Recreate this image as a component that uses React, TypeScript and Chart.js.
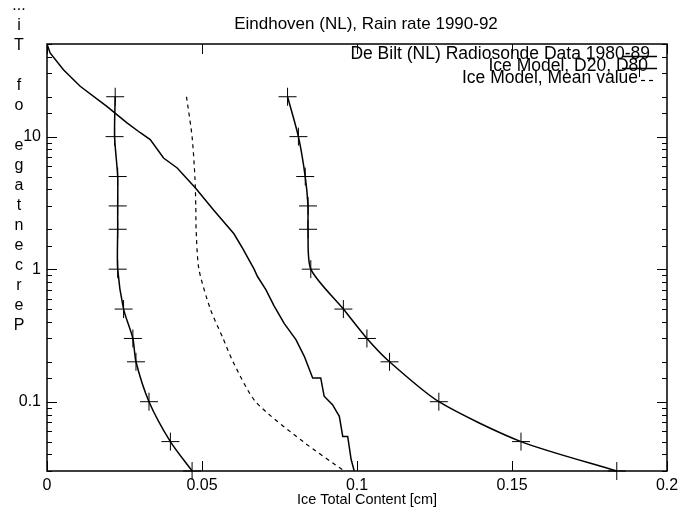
import React, { useEffect, useRef } from "react";
import { Chart, registerables } from "chart.js";

Chart.register(...registerables);

const titleText = "Eindhoven (NL), Rain rate 1990-92";
const xTitleText = "Ice Total Content [cm]";
const yTitleChars = ["P", "e", "r", "c", "e", "n", "t", "a", "g", "e", " ", "o", "f", " ", "T", "i", "..."];

const legendLabels = [
  "De Bilt (NL) Radiosonde Data 1980-89",
  "Ice Model, D20, D80",
  "Ice Model, Mean value",
];

// Percentage of time levels for the model curves
const modelLevels = [20, 10, 5, 3, 2, 1, 0.5, 0.3, 0.2, 0.1, 0.05, 0.03];
const d20Values = [0.022, 0.0218, 0.0228, 0.0228, 0.0228, 0.0228, 0.0247, 0.0277, 0.0287, 0.0329, 0.0398, 0.0468];
const d80Values = [0.0776, 0.0811, 0.0833, 0.0842, 0.0842, 0.0851, 0.0956, 0.1032, 0.1105, 0.1264, 0.1529, 0.1838];
const meanValues = [0.045, 0.0468, 0.0477, 0.048, 0.0481, 0.049, 0.0527, 0.0568, 0.06, 0.0673, 0.0826, 0.0959];

// De Bilt radiosonde measured distribution
const deBiltContent = [
  0.0, 0.001, 0.0053, 0.0107, 0.0193, 0.0258, 0.0301, 0.0333, 0.0376, 0.042,
  0.0479, 0.0538, 0.0603, 0.0632, 0.0668, 0.0679, 0.0706, 0.0732, 0.0765, 0.0803,
  0.083, 0.0857, 0.0883, 0.0894, 0.0921, 0.0943, 0.0954, 0.097, 0.0981, 0.0991,
];
const deBiltPercent = [
  50, 42.8, 32, 24, 16.9, 12.7, 10.7, 9.5, 6.9, 5.8,
  4.1, 2.78, 1.85, 1.42, 1.0, 0.88, 0.7, 0.53, 0.39, 0.294,
  0.22, 0.151, 0.151, 0.11, 0.095, 0.0775, 0.0547, 0.0547, 0.0368, 0.03,
];

const xTickStep = 0.05;
const xMin = 0;
const xMax = 0.2;
const yMin = 0.03;
const yMax = 50;

const FONT = '"Liberation Sans", Arial, Helvetica, sans-serif';
const FS = 16;

const isDecade = (v: number) => Math.abs(Math.log10(v) - Math.round(Math.log10(v))) < 1e-6;

const pairs = (xs: number[], ys: number[]) => xs.map((x, i) => ({ x, y: ys[i] }));

const gnuplotDecor = {
  id: "gnuplotDecor",
  afterDraw(chart: any) {
    const { ctx, chartArea: a, scales } = chart;
    const xs = scales.x;
    const ys = scales.y;
    ctx.save();
    ctx.strokeStyle = "#000";
    ctx.fillStyle = "#000";
    ctx.lineWidth = 1.5;
    ctx.strokeRect(a.left, a.top, a.right - a.left, a.bottom - a.top);
    ctx.lineWidth = 1;
    const line = (x1: number, y1: number, x2: number, y2: number) => {
      ctx.beginPath();
      ctx.moveTo(x1, y1);
      ctx.lineTo(x2, y2);
      ctx.stroke();
    };
    xs.ticks.forEach((t: any) => {
      const px = Math.round(xs.getPixelForValue(t.value)) + 0.5;
      line(px, a.bottom, px, a.bottom - 10);
      line(px, a.top, px, a.top + 10);
    });
    ys.ticks.forEach((t: any) => {
      const len = isDecade(t.value) ? 10 : 5;
      const py = Math.round(ys.getPixelForValue(t.value)) + 0.5;
      line(a.left, py, a.left + len, py);
      line(a.right, py, a.right - len, py);
    });

    // title
    ctx.textAlign = "center";
    ctx.textBaseline = "alphabetic";
    ctx.font = `17px ${FONT}`;
    ctx.fillText(titleText, 366, 29);
    ctx.font = `14.5px ${FONT}`;
    ctx.fillText(xTitleText, 367, 504);
    // y title stacked chars
    ctx.font = `${FS}px ${FONT}`;
    ctx.textBaseline = "middle";
    yTitleChars.forEach((c, i) => {
      ctx.fillText(c, 19, 326 - 20 * i);
    });

    // legend
    const rows = [54, 66, 78];
    const rightEdges = [650, 648, 638];
    ctx.font = `17.5px ${FONT}`;
    ctx.textAlign = "right";
    legendLabels.forEach((lab, i) => ctx.fillText(lab, rightEdges[i], rows[i]));
    ctx.lineWidth = 1.5;
    line(622, rows[0] + 2.5, 657, rows[0] + 2.5);
    line(622, rows[1] + 2.5, 657, rows[1] + 2.5);
    ctx.lineWidth = 1;
    line(639.5 - 9, rows[1] + 2.5, 639.5 + 9, rows[1] + 2.5);
    line(639.5, rows[1] - 6, 639.5, rows[1] + 11);
    ctx.setLineDash([4, 4]);
    ctx.lineWidth = 1.2;
    line(641, rows[2] + 2.5, 657, rows[2] + 2.5);
    ctx.restore();
  },
};

export default function App() {
  const ref = useRef<HTMLCanvasElement | null>(null);
  useEffect(() => {
    if (!ref.current) return;
    const chart = new Chart(ref.current, {
      type: "scatter",
      data: {
        datasets: [
          {
            label: legendLabels[0],
            data: pairs(deBiltContent, deBiltPercent),
            showLine: true,
            borderColor: "#000",
            borderWidth: 1.5,
            pointRadius: 0,
            tension: 0,
          },
          {
            label: legendLabels[1],
            data: pairs(d20Values, modelLevels),
            showLine: true,
            borderColor: "#000",
            borderWidth: 1.5,
            pointStyle: "cross",
            pointRadius: 9,
            pointBorderWidth: 1,
            pointBorderColor: "#000",
            tension: 0.25,
            clip: false,
          },
          {
            label: legendLabels[1] + " (D80)",
            data: pairs(d80Values, modelLevels),
            showLine: true,
            borderColor: "#000",
            borderWidth: 1.5,
            pointStyle: "cross",
            pointRadius: 9,
            pointBorderWidth: 1,
            pointBorderColor: "#000",
            tension: 0.25,
            clip: false,
          },
          {
            label: legendLabels[2],
            data: pairs(meanValues, modelLevels),
            showLine: true,
            borderColor: "#000",
            borderWidth: 1.2,
            borderDash: [4, 4],
            pointRadius: 0,
            tension: 0.25,
          },
        ],
      },
      options: {
        animation: false,
        responsive: false,
        devicePixelRatio: 1,
        layout: { padding: { top: 44, right: 16, left: 0, bottom: 0 } },
        plugins: {
          legend: { display: false },
          tooltip: { enabled: false },
          title: { display: false },
        },
        scales: {
          x: {
            type: "linear",
            min: xMin,
            max: xMax,
            grid: { display: false },
            border: { display: false },
            afterFit: (s: any) => {
              s.height = 39;
            },
            ticks: {
              stepSize: xTickStep,
              color: "#000",
              padding: -3,
              maxRotation: 0,
              autoSkip: false,
              font: { family: FONT, size: FS },
              callback: (v: any) => String(+Number(v).toFixed(2)),
            },
          },
          y: {
            type: "logarithmic",
            min: yMin,
            max: yMax,
            grid: { display: false },
            border: { display: false },
            afterFit: (s: any) => {
              s.width = 47;
            },
            ticks: {
              color: "#000",
              padding: -2,
              autoSkip: false,
              font: { family: FONT, size: FS },
              callback: (v: any) => {
                const n = Number(v);
                if (!isDecade(n)) return "";
                const e = Math.round(Math.log10(n));
                return e >= 0 ? String(Math.pow(10, e)) : Math.pow(10, e).toFixed(-e);
              },
            },
          },
        },
      },
      plugins: [gnuplotDecor],
    } as any);
    return () => chart.destroy();
  }, []);
  return (
    <div style={{ position: "fixed", left: 0, top: 0, width: 683, height: 510, background: "#fff" }}>
      <canvas ref={ref} width={683} height={510} style={{ width: 683, height: 510 }} />
    </div>
  );
}
